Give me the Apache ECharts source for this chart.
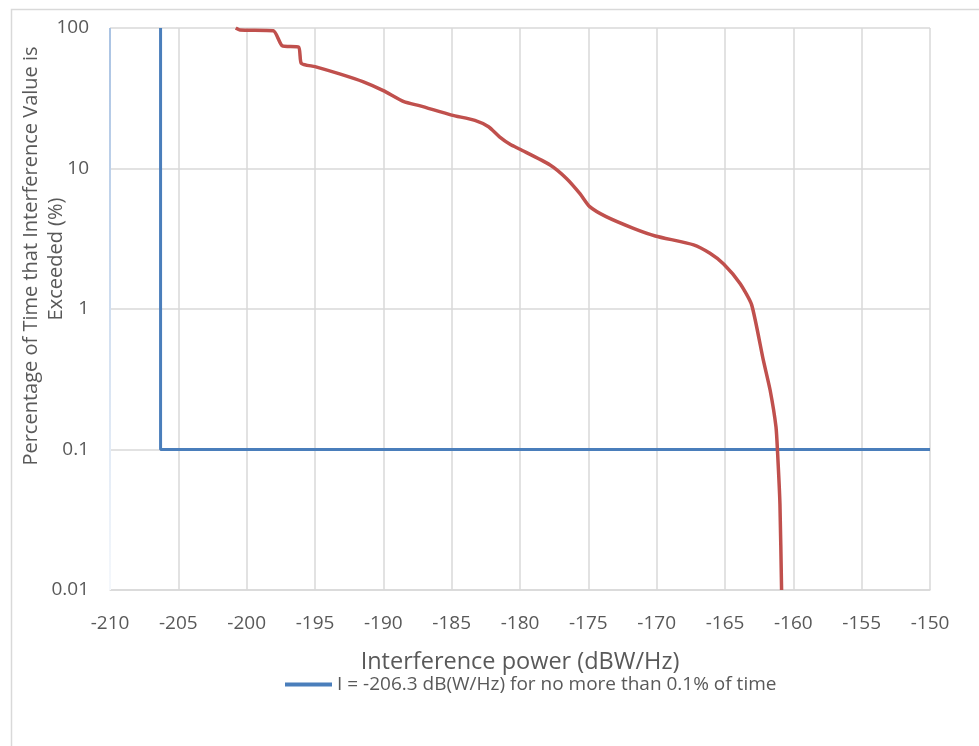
<!DOCTYPE html>
<html>
<head>
<meta charset="utf-8">
<script src="https://cdn.jsdelivr.net/npm/echarts@6/dist/echarts.min.js"></script>
<style>html,body{margin:0;padding:0;background:#fff;}#c{width:979px;height:746px;}</style>
</head>
<body>
<div id="c"></div>
<script>
const xTicks = [-210,-205,-200,-195,-190,-185,-180,-175,-170,-165,-160,-155,-150];
const yTicks = [0.01, 0.1, 1, 10, 100];
const yTitleLines = ['Percentage of Time that Interference Value is', 'Exceeded (%)'];

const thresholdName = 'I = -206.3 dB(W/Hz) for no more than 0.1% of time';
const thresholdX = [-206.3, -206.3, -150];
const thresholdY = [100, 0.1, 0.1];

const curveX = [-200.8, -200.5, -198.05, -197.4, -196.2, -196.0, -195.0, -193.2, -191.5, -190.0, -188.5, -187.3, -185.0, -183.3, -182.3, -181.5, -180.7, -180.0, -177.8, -176.6, -175.6, -174.9, -173.7, -171.7, -170.1, -167.3, -166.1, -165.1, -163.9, -163.05, -162.2, -161.7, -161.27, -161.15, -160.98, -160.86];
const curveY = [100, 96.8, 95.6, 74.8, 73, 56.1, 53.1, 47.1, 41.5, 35.8, 29.9, 27.9, 24.0, 22.0, 19.8, 16.8, 14.8, 13.7, 10.6, 8.5, 6.6, 5.35, 4.54, 3.75, 3.31, 2.86, 2.49, 2.09, 1.52, 1.07, 0.434, 0.265, 0.145, 0.094, 0.041, 0.01];

const font = 'Open Sans, Liberation Sans, sans-serif';
const chart = echarts.init(document.getElementById('c'));
chart.setOption({
  animation: false,
  backgroundColor: '#fff',
  graphic: [{
    type: 'rect', left: 9, top: 7, silent: true,
    shape: {width: 1100, height: 900},
    style: {fill: 'none', stroke: '#d9d9d9', lineWidth: 1.5}
  }, {
    type: 'text', x: 31, y: 256, rotation: Math.PI / 2, silent: true,
    style: {text: yTitleLines[0], align: 'center', verticalAlign: 'middle',
      fontSize: 20, fontFamily: font, fill: '#595959'}
  }, {
    type: 'text', x: 56, y: 259, rotation: Math.PI / 2, silent: true,
    style: {text: yTitleLines[1], align: 'center', verticalAlign: 'middle',
      fontSize: 20, fontFamily: font, fill: '#595959'}
  }],
  grid: {left: 110, right: 49, top: 28, bottom: 156, containLabel: false, outerBoundsMode: 'none'},
  legend: {
    data: [thresholdName],
    left: 280, top: 670,
    itemWidth: 47, itemHeight: 4, itemGap: 2,
    icon: 'rect',
    textStyle: {color: '#595959', fontSize: 19, fontFamily: font, padding: [0, 0, 0, 0]}
  },
  xAxis: {
    type: 'value', min: -210, max: -150, interval: 5,
    name: 'Interference power (dBW/Hz)', nameLocation: 'middle', nameGap: 60,
    nameTextStyle: {color: '#595959', fontSize: 23.5, fontFamily: font},
    axisLine: {show: true, onZero: false, lineStyle: {color: '#d9d9d9', width: 1.5}},
    axisTick: {show: false},
    splitLine: {show: true, lineStyle: {color: '#d9d9d9', width: 1.5}},
    axisLabel: {color: '#595959', fontSize: 19, fontFamily: font, margin: 24,
      formatter: v => xTicks.includes(v) ? String(v) : ''}
  },
  yAxis: {
    type: 'log', logBase: 10, min: 0.01, max: 100,
    axisLine: {show: false},
    axisTick: {show: false},
    splitLine: {show: true, lineStyle: {color: '#d9d9d9', width: 1.5}},
    axisLabel: {color: '#595959', fontSize: 19, fontFamily: font, margin: 21,
      formatter: v => { const t = yTicks.find(k => Math.abs(k - v) / k < 1e-6); return t === undefined ? '' : String(t); }}
  },
  series: [
    {
      name: 'axis', type: 'line', silent: true, symbol: 'none',
      data: [[-210, 100], [-210, 0.01]],
      lineStyle: {width: 2, color: new echarts.graphic.LinearGradient(0, 0, 0, 1, [
        {offset: 0, color: '#aac3e3'}, {offset: 1, color: '#f5f8fc'}])},
      z: 1
    },
    {
      name: thresholdName, type: 'line', symbol: 'none',
      data: thresholdX.map((x, i) => [x, thresholdY[i]]),
      lineStyle: {color: '#4a7ebb', width: 3},
      itemStyle: {color: '#4a7ebb'},
      z: 3
    },
    {
      name: 'curve', type: 'line', symbol: 'none', smooth: 0.2,
      data: curveX.map((x, i) => [x, curveY[i]]),
      lineStyle: {color: '#c0504d', width: 3.5},
      itemStyle: {color: '#c0504d'},
      z: 4
    }
  ]
});
</script>
</body>
</html>
